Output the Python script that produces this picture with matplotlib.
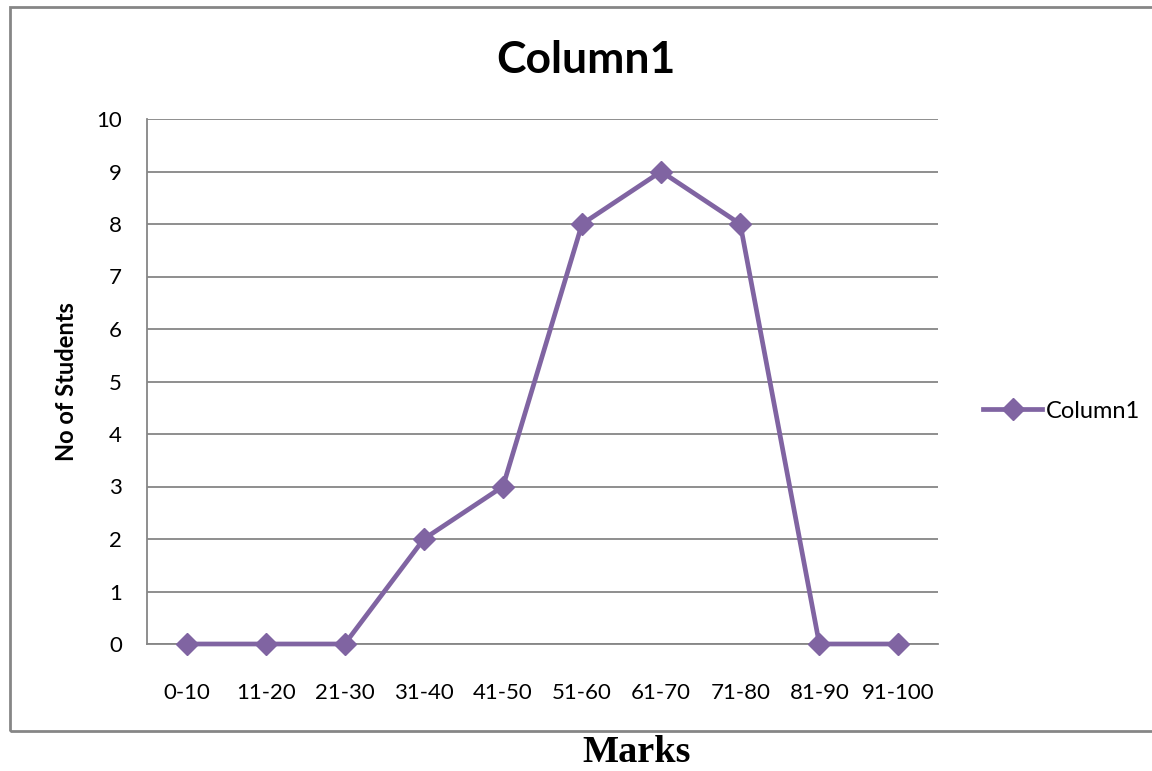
import matplotlib
matplotlib.use("Agg")
import matplotlib.pyplot as plt
from matplotlib.patches import Rectangle
from matplotlib.lines import Line2D

# mark bands and student counts
bands = ["0-10", "11-20", "21-30", "31-40", "41-50", "51-60", "61-70", "71-80", "81-90", "91-100"]
students = [0, 0, 0, 2, 3, 8, 9, 8, 0, 0]
y_ticks = list(range(0, 11))

purple = "#8064A2"
grey = "#868686"
sans = ["Lato", "DejaVu Sans"]

plt.rcParams["font.family"] = sans

fig = plt.figure(figsize=(11.52, 7.71), dpi=100)
ax = fig.add_axes([147 / 1152, 1 - 644 / 771, (938 - 147) / 1152, (644 - 119) / 771])

x = list(range(len(bands)))
ax.plot(x, students, color=purple, linewidth=3.4, marker="D", markersize=11,
        markeredgecolor=purple, label="Column1", zorder=3, clip_on=False)

ax.set_xlim(-0.5, len(bands) - 0.5)
ax.set_ylim(0, 10)
ax.set_xticks(x)
ax.set_xticklabels(bands, fontsize=16)
ax.set_yticks(y_ticks)
ax.tick_params(axis="y", labelsize=16, length=0, pad=18)
ax.tick_params(axis="x", length=0, pad=28)
ax.grid(axis="y", color=grey, linewidth=1.3)
ax.set_axisbelow(True)
for side in ["top", "right"]:
    ax.spines[side].set_visible(False)
ax.spines["left"].set_color(grey)
ax.spines["left"].set_linewidth(1.3)
ax.spines["bottom"].set_color(grey)
ax.spines["bottom"].set_linewidth(1.3)

ax.set_ylabel("No of Students", fontsize=17, fontweight="bold", labelpad=13)

fig.text(586 / 1152, 1 - 60 / 771, "Column1", fontsize=32, fontweight="bold",
         ha="center", va="center")

# outer chart frame
fig.patches.append(Rectangle((10 / 1152, 1 - 731 / 771), 1.2, (731 - 7) / 771,
                             transform=fig.transFigure, fill=False,
                             edgecolor=grey, linewidth=2))

handle = Line2D([], [], color=purple, linewidth=3.4, marker="D", markersize=11)
fig.legend([handle], ["Column1"], loc="center left", bbox_to_anchor=(962 / 1152, 1 - 411 / 771),
           frameon=False, fontsize=17, handlelength=2.5, handletextpad=0.15)

fig.text(637 / 1152, 1 - 752 / 771, "Marks", fontsize=27.5, fontweight="bold",
         family="Liberation Serif", ha="center", va="center")

fig.savefig("out.png", dpi=100)
